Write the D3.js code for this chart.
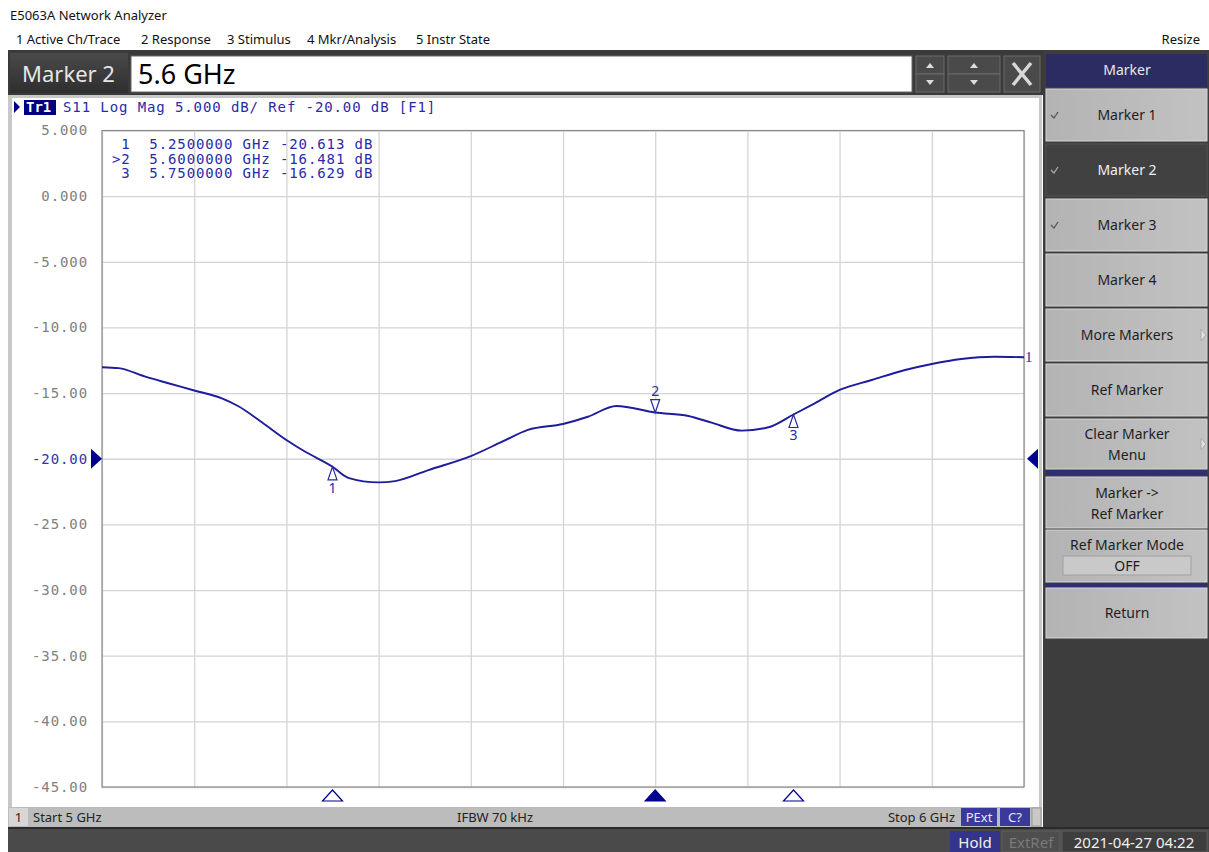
<!DOCTYPE html>
<html><head><meta charset="utf-8">
<script src="https://cdn.jsdelivr.net/npm/d3@7"></script>
<style>body{margin:0;background:#fff;overflow:hidden}svg{display:block}</style>
</head><body><svg id="c" width="1209" height="852"></svg>
<script>
// ---------------- data ----------------
const freqGHz = [5.000, 5.018, 5.047, 5.072, 5.100, 5.130, 5.148, 5.173, 5.200, 5.220, 5.250, 5.267, 5.300, 5.318, 5.354, 5.400, 5.434, 5.462, 5.500, 5.527, 5.558, 5.600, 5.636, 5.661, 5.694, 5.723, 5.750, 5.773, 5.800, 5.835, 5.871, 5.900, 5.932, 5.968, 6.000];
const s11dB   = [-13.03, -13.10, -13.75, -14.25, -14.80, -15.40, -16.00, -17.20, -18.57, -19.45, -20.61, -21.45, -21.80, -21.70, -20.86, -19.80, -18.70, -17.80, -17.35, -16.80, -15.98, -16.48, -16.74, -17.25, -17.86, -17.60, -16.63, -15.78, -14.76, -14.00, -13.24, -12.78, -12.40, -12.23, -12.27];
const yTicks = [5, 0, -5, -10, -15, -20, -25, -30, -35, -40, -45];
const yTickLabels = ["5.000", "0.000", "-5.000", "-10.00", "-15.00", "-20.00", "-25.00", "-30.00", "-35.00", "-40.00", "-45.00"];
const xTicks = [5.0, 5.1, 5.2, 5.3, 5.4, 5.5, 5.6, 5.7, 5.8, 5.9, 6.0];
const markerNames = ["1", "2", "3"];
const markerFreqGHz = [5.25, 5.60, 5.75];
const markerValuesDB = [-20.613, -16.481, -16.629];
const markerRows = [" 1  5.2500000 GHz -20.613 dB", ">2  5.6000000 GHz -16.481 dB", " 3  5.7500000 GHz -16.629 dB"];
const refLevelDB = -20;
const menuItems = ["1 Active Ch/Trace", "2 Response", "3 Stimulus", "4 Mkr/Analysis", "5 Instr State"];
const softkeys = ["Marker 1", "Marker 2", "Marker 3", "Marker 4", "More Markers", "Ref Marker", "Clear Marker|Menu", "Marker ->|Ref Marker", "Ref Marker Mode", "Return"];

// ---------------- layout ----------------
const svg = d3.select("#c");
const UI = "'Noto Sans', 'Open Sans', sans-serif";
const MONO = "'DejaVu Sans Mono', 'Liberation Mono', monospace";
const L = 102, R = 1024, T = 130.5, B = 787;
const x = d3.scaleLinear().domain([5, 6]).range([L, R]);
const y = d3.scaleLinear().domain([-45, 5]).range([B, T]);
const BLUE = "#1c1c9c";

// title + menu
svg.append("text").attr("x", 10).attr("y", 20).attr("font-family", UI).attr("font-size", 13).attr("fill", "#111").text("E5063A Network Analyzer");
const menuX = [16, 141, 227, 307, 416];
menuItems.forEach((m, i) => {
  svg.append("text").attr("x", menuX[i]).attr("y", 44).attr("font-family", UI).attr("font-size", 13).attr("fill", "#111").text(m);
});
svg.append("text").attr("x", 1200).attr("y", 44).attr("text-anchor", "end").attr("font-family", UI).attr("font-size", 13).attr("fill", "#111").text("Resize");

// right dark panel
svg.append("rect").attr("x", 1043).attr("y", 50).attr("width", 166).attr("height", 802).attr("fill", "#3d3d3d");

// dark entry bar
svg.append("rect").attr("x", 8).attr("y", 50).attr("width", 1036).attr("height", 45).attr("fill", "#3a3a3a");
const g0 = svg.append("defs").append("linearGradient").attr("id", "lab").attr("x1", 0).attr("x2", 0).attr("y1", 0).attr("y2", 1);
g0.append("stop").attr("offset", 0).attr("stop-color", "#4a4a4a");
g0.append("stop").attr("offset", 1).attr("stop-color", "#2e2e2e");
svg.append("rect").attr("x", 10).attr("y", 53).attr("width", 118).attr("height", 40).attr("fill", "url(#lab)");
svg.append("text").attr("x", 22).attr("y", 82).attr("font-family", UI).attr("font-size", 22).attr("fill", "#e6e6e6").text("Marker 2");
svg.append("rect").attr("x", 131).attr("y", 56).attr("width", 781).attr("height", 36).attr("fill", "#fff").attr("stroke", "#666");
svg.append("text").attr("x", 138).attr("y", 84).attr("font-family", UI).attr("font-size", 27).attr("fill", "#000").text("5.6 GHz");
// spinner buttons
[[916, 28], [948, 52]].forEach(([bx, bw]) => {
  svg.append("rect").attr("x", bx).attr("y", 56).attr("width", bw).attr("height", 18).attr("fill", "#4a4a4a").attr("stroke", "#6a6a6a");
  svg.append("rect").attr("x", bx).attr("y", 74).attr("width", bw).attr("height", 18).attr("fill", "#4a4a4a").attr("stroke", "#6a6a6a");
  const cx = bx + bw / 2;
  svg.append("path").attr("d", `M${cx - 4},${68} L${cx + 4},${68} L${cx},${63} Z`).attr("fill", "#ddd");
  svg.append("path").attr("d", `M${cx - 4},${80} L${cx + 4},${80} L${cx},${85} Z`).attr("fill", "#ddd");
});
svg.append("rect").attr("x", 1004).attr("y", 56).attr("width", 36).attr("height", 36).attr("fill", "#4a4a4a").attr("stroke", "#6a6a6a");
svg.append("path").attr("d", "M1013,63 L1031,85 M1031,63 L1013,85").attr("stroke", "#d8d8d8").attr("stroke-width", 3.5);

// softkeys
svg.append("rect").attr("x", 1046).attr("y", 54).attr("width", 161).attr("height", 33).attr("fill", "#2c2c62");
svg.append("text").attr("x", 1127).attr("y", 75).attr("text-anchor", "middle").attr("font-family", UI).attr("font-size", 14).attr("fill", "#e8e8e8").text("Marker");
const keyRows = [[89, 141], [144, 196], [199, 251], [254, 306], [309, 361], [364, 416], [419, 469], [477, 528], [530, 582], [588, 638]];
const gl = svg.select("defs").append("linearGradient").attr("id", "btn").attr("x1", 0).attr("x2", 1).attr("y1", 0).attr("y2", 0);
gl.append("stop").attr("offset", 0).attr("stop-color", "#b3b3b3");
gl.append("stop").attr("offset", 1).attr("stop-color", "#c2c2c2");
softkeys.forEach((k, i) => {
  const [y0, y1] = keyRows[i];
  const dark = i === 1;
  svg.append("rect").attr("x", 1046).attr("y", y0).attr("width", 161).attr("height", y1 - y0)
    .attr("fill", dark ? "#414141" : "url(#btn)").attr("stroke", dark ? "#555" : "#d6d6d6").attr("stroke-width", 1);
  const lines = k.split("|");
  const cy = (y0 + y1) / 2;
  let ys;
  if (i === 8) ys = [cy - 6];
  else ys = lines.length === 1 ? [cy + 5] : [cy - 5, cy + 16];
  lines.forEach((ln, j) => svg.append("text").attr("x", 1127).attr("y", ys[j]).attr("text-anchor", "middle")
    .attr("font-family", UI).attr("font-size", 14).attr("fill", dark ? "#f0f0f0" : "#1e1e1e").text(ln));
  if (i <= 2) svg.append("path").attr("d", `M${1051},${cy} L${1054},${cy + 3} L${1058},${cy - 3}`).attr("fill", "none")
    .attr("stroke", dark ? "#aaa" : "#555").attr("stroke-width", 1.3);
  if (i === 4 || i === 6) svg.append("path").attr("d", `M1201,${cy - 6} L1206,${cy} L1201,${cy + 6} Z`).attr("fill", "#e0e0e0").attr("stroke", "#aaa");
  if (i === 8) {
    svg.append("rect").attr("x", 1063).attr("y", 556).attr("width", 128).attr("height", 19).attr("fill", "#c9c9c9").attr("stroke", "#a0a0a0");
    svg.append("text").attr("x", 1127).attr("y", 571).attr("text-anchor", "middle").attr("font-family", UI).attr("font-size", 14).attr("fill", "#1e1e1e").text("OFF");
  }
});
[[470, 5], [583, 4]].forEach(([sy, sh]) => svg.append("rect").attr("x", 1046).attr("y", sy).attr("width", 161).attr("height", sh).attr("fill", "#2e2e70"));

// chart frame
svg.append("rect").attr("x", 8).attr("y", 95).attr("width", 1034).attr("height", 713).attr("fill", "#c8c8c8");
svg.append("rect").attr("x", 12).attr("y", 98).attr("width", 1027).attr("height", 709).attr("fill", "#fff");

// grid via axes
const gx = svg.append("g").attr("transform", `translate(0,${B})`)
  .call(d3.axisBottom(x).tickValues(xTicks).tickSize(-(B - T)).tickFormat(""));
gx.selectAll("line").attr("stroke", "#d4d4d4").attr("stroke-width", 1.3);
gx.select(".domain").remove();
const gy = svg.append("g").attr("transform", `translate(${L},0)`)
  .call(d3.axisLeft(y).tickValues(yTicks).tickSize(-(R - L)).tickPadding(14).tickFormat((d, i) => yTickLabels[i]));
gy.select(".domain").remove();
gy.selectAll("line").attr("stroke", "#d4d4d4").attr("stroke-width", 1.3);
gy.selectAll("text").attr("font-family", MONO).attr("font-size", 14).attr("letter-spacing", "0.9px")
  .attr("fill", d => d === refLevelDB ? "#3434a8" : "#808080");
svg.append("rect").attr("x", L).attr("y", T).attr("width", R - L).attr("height", B - T).attr("fill", "none").attr("stroke", "#8c8c8c").attr("stroke-width", 1.2);

// header
svg.append("path").attr("d", "M14,101 L20,107 L14,113 Z").attr("fill", "#000080");
svg.append("rect").attr("x", 24).attr("y", 100).attr("width", 32).attr("height", 15).attr("fill", "#000080");
svg.append("text").attr("x", 26).attr("y", 112).attr("font-family", MONO).attr("font-weight", "bold").attr("font-size", 14).attr("fill", "#fff").text("Tr1");
svg.append("text").attr("x", 63).attr("y", 112).attr("font-family", MONO).attr("font-size", 14).attr("letter-spacing", "0.9px").attr("fill", "#2a2aa8")
  .text("S11 Log Mag 5.000 dB/ Ref -20.00 dB [F1]");

// marker table
markerRows.forEach((r, i) => svg.append("text").attr("x", 112).attr("y", 149 + i * 14.6).attr("font-family", MONO).attr("font-size", 14)
  .attr("letter-spacing", "0.9px").attr("fill", "#2a2aa8").attr("xml:space", "preserve").style("white-space", "pre").text(r));

// trace
const line = d3.line().x((d, i) => x(freqGHz[i])).y(d => y(d)).curve(d3.curveMonotoneX);
svg.append("path").datum(s11dB).attr("d", line).attr("fill", "none").attr("stroke", BLUE).attr("stroke-width", 1.9);
svg.append("text").attr("x", 1025).attr("y", 362).attr("font-family", "'Liberation Serif', serif").attr("font-size", 15).attr("fill", "#2a2aa8").text("1");

// markers on trace
markerFreqGHz.forEach((f, i) => {
  const mxp = x(f), myp = y(markerValuesDB[i]);
  const active = i === 1;
  if (active) {
    svg.append("path").attr("d", `M${mxp},${myp} L${mxp - 4.5},${myp - 13} L${mxp + 4.5},${myp - 13} Z`).attr("fill", "#fff").attr("stroke", "#2a2aa8").attr("stroke-width", 1.2);
    svg.append("text").attr("x", mxp).attr("y", myp - 17).attr("text-anchor", "middle").attr("font-family", UI).attr("font-size", 14).attr("fill", "#2a2aa8").text(markerNames[i]);
  } else {
    svg.append("path").attr("d", `M${mxp},${myp} L${mxp - 4.5},${myp + 13} L${mxp + 4.5},${myp + 13} Z`).attr("fill", "#fff").attr("stroke", "#2a2aa8").attr("stroke-width", 1.2);
    svg.append("text").attr("x", mxp).attr("y", myp + 26).attr("text-anchor", "middle").attr("font-family", UI).attr("font-size", 14).attr("fill", "#2a2aa8").text(markerNames[i]);
  }
  svg.append("path").attr("d", `M${mxp},${B + 3} L${mxp - 10},${B + 14} L${mxp + 10},${B + 14} Z`)
    .attr("fill", active ? "#000090" : "#fff").attr("stroke", "#000090").attr("stroke-width", 1.2);
});

// reference level arrows
const ry = y(refLevelDB);
svg.append("path").attr("d", `M${L - 11},${ry - 10} L${L},${ry} L${L - 11},${ry + 10} Z`).attr("fill", "#000090");
svg.append("path").attr("d", `M${R + 14},${ry - 10} L${R + 3},${ry} L${R + 14},${ry + 10} Z`).attr("fill", "#000090");

// status bar
svg.append("rect").attr("x", 8).attr("y", 807).attr("width", 1034).attr("height", 20).attr("fill", "#bcbcbc");
svg.append("rect").attr("x", 9).attr("y", 808).attr("width", 19).attr("height", 18).attr("fill", "#d6d6d6");
svg.append("text").attr("x", 18.5).attr("y", 822).attr("text-anchor", "middle").attr("font-family", UI).attr("font-size", 13).attr("fill", "#222").text("1");
svg.append("text").attr("x", 33).attr("y", 822).attr("font-family", UI).attr("font-size", 13).attr("fill", "#222").text("Start 5 GHz");
svg.append("text").attr("x", 495).attr("y", 822).attr("text-anchor", "middle").attr("font-family", UI).attr("font-size", 13).attr("fill", "#222").text("IFBW 70 kHz");
svg.append("text").attr("x", 955).attr("y", 822).attr("text-anchor", "end").attr("font-family", UI).attr("font-size", 13).attr("fill", "#222").text("Stop 6 GHz");
svg.append("rect").attr("x", 961).attr("y", 808).attr("width", 36).attr("height", 18).attr("fill", "#3a3a9c");
svg.append("text").attr("x", 979).attr("y", 822).attr("text-anchor", "middle").attr("font-family", UI).attr("font-size", 13).attr("fill", "#e8e8e8").text("PExt");
svg.append("rect").attr("x", 1000).attr("y", 808).attr("width", 30).attr("height", 18).attr("fill", "#3a3a9c");
svg.append("text").attr("x", 1015).attr("y", 822).attr("text-anchor", "middle").attr("font-family", UI).attr("font-size", 13).attr("fill", "#e8e8e8").text("C?");
svg.append("rect").attr("x", 1032).attr("y", 808).attr("width", 9).attr("height", 18).attr("fill", "#c8c8c8").attr("stroke", "#999");

// bottom bar
svg.append("rect").attr("x", 8).attr("y", 827).attr("width", 1201).attr("height", 25).attr("fill", "#4a4a4a");
svg.append("rect").attr("x", 8).attr("y", 827).attr("width", 1201).attr("height", 2).attr("fill", "#2a2a2a");
svg.append("rect").attr("x", 950).attr("y", 831).attr("width", 50).attr("height", 21).attr("fill", "#34348a");
svg.append("text").attr("x", 975).attr("y", 848).attr("text-anchor", "middle").attr("font-family", UI).attr("font-size", 15).attr("fill", "#f0f0f0").text("Hold");
svg.append("rect").attr("x", 1002).attr("y", 831).attr("width", 58).attr("height", 21).attr("fill", "#4e4e4e").attr("stroke", "#5e5e5e");
svg.append("text").attr("x", 1031).attr("y", 848).attr("text-anchor", "middle").attr("font-family", UI).attr("font-size", 15).attr("fill", "#7a7a7a").text("ExtRef");
svg.append("rect").attr("x", 1062).attr("y", 831).attr("width", 145).attr("height", 21).attr("fill", "#3e3e3e").attr("stroke", "#5e5e5e");
svg.append("text").attr("x", 1134).attr("y", 848).attr("text-anchor", "middle").attr("font-family", UI).attr("font-size", 15).attr("fill", "#f0f0f0").text("2021-04-27 04:22");
</script></body></html>
